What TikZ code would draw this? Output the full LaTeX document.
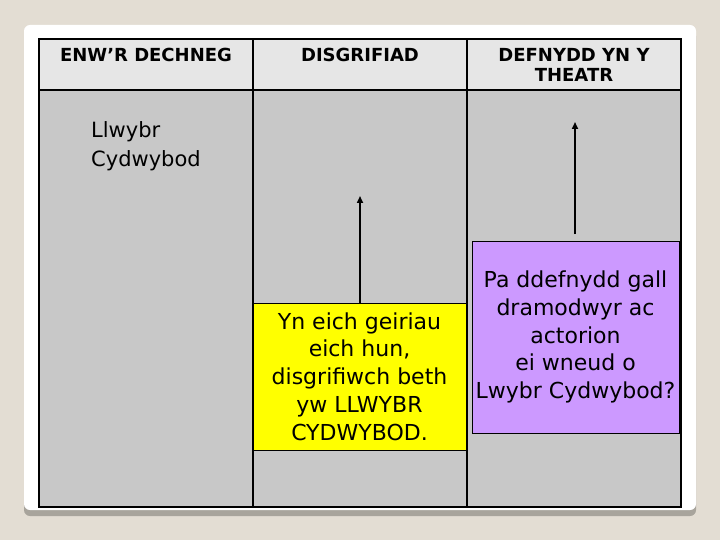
\documentclass[tikz,border=0pt]{standalone}
\usepackage{fontspec}
\setmainfont{DejaVu Sans}
\newfontfamily\comicf{DejaVu Sans}
\newfontfamily\headf{DejaVu Sans}
\usetikzlibrary{arrows.meta}
\definecolor{bgbeige}{HTML}{E3DDD3}
\definecolor{hdrgray}{HTML}{E6E6E6}
\definecolor{bodygray}{HTML}{C8C8C8}
\definecolor{shadowgray}{HTML}{A8A49C}
\definecolor{yel}{HTML}{FFFF00}
\definecolor{purp}{HTML}{CC99FF}
\tikzset{
  hdr/.style={font=\headf\bfseries\fontsize{18}{20.5}\selectfont, align=center, anchor=north, inner sep=0pt},
  boxtxt/.style={font=\comicf\fontsize{22}{27.8}\selectfont, align=center, draw=black, line width=0.8pt, inner sep=0pt},
  upar/.style={-{Triangle[length=7pt,width=6pt]}, line width=1.6pt},
  grid/.style={line width=1.8pt}
}
\begin{document}
\begin{tikzpicture}[x=1pt,y=-1pt]
\useasboundingbox (0,0) rectangle (720,540);
\fill[bgbeige] (0,0) rectangle (720,540);
% panel with shadow
\fill[shadowgray, rounded corners=6pt] (24,30) rectangle (696,516);
\fill[white, rounded corners=6pt] (24,25) rectangle (696,510);
% table
\fill[hdrgray] (39,39) rectangle (681,90);
\fill[bodygray] (39,90) rectangle (681,507);
\draw[grid] (39,39) rectangle (681,507);
\draw[grid] (39,90) -- (681,90);
\draw[grid] (253,39) -- (253,507);
\draw[grid] (467,39) -- (467,507);
% headers
\node[hdr] (h1) at (146,48) {ENW’R DECHNEG};
\node[hdr] (h2) at (360,48) {DISGRIFIAD};
\node[hdr] (h3) at (574,48) {DEFNYDD YN Y\\THEATR};
% left text
\node[font=\comicf\fontsize{21}{29}\selectfont, align=left, anchor=north west, inner sep=0pt] (llw) at (91,121) {Llwybr\\Cydwybod};
% yellow box
\node[boxtxt, fill=yel, minimum width=213pt, minimum height=147pt] (yb) at (359.5,376.5) {Yn eich geiriau\\eich hun,\\disgrifiwch beth\\yw LLWYBR\\CYDWYBOD.};
% purple box
\node[boxtxt, fill=purp, minimum width=207pt, minimum height=192pt] (pb) at (575.5,337) {Pa ddefnydd gall\\dramodwyr ac\\actorion\\ei wneud o\\Lwybr Cydwybod?};
% arrows
\coordinate (a2) at (360,196);
\coordinate (a3) at (575,122);
\coordinate (s3) at (575,234);
\draw[upar] (yb.north -| a2) -- (a2);
\draw[upar] (s3) -- (a3);
\end{tikzpicture}
\end{document}
